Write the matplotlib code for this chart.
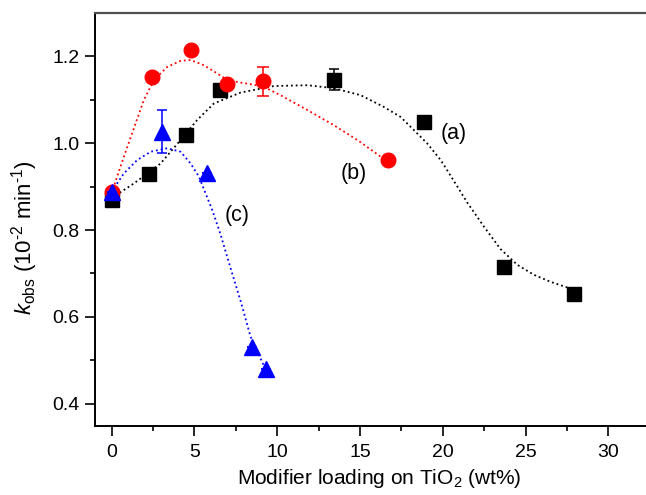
import numpy as np
import matplotlib
matplotlib.use('Agg')
import matplotlib.pyplot as plt
from matplotlib.ticker import MultipleLocator

plt.rcParams['font.family'] = ['Liberation Sans', 'DejaVu Sans']
plt.rcParams['mathtext.fontset'] = 'custom'
plt.rcParams['mathtext.rm'] = 'Liberation Sans'
plt.rcParams['mathtext.it'] = 'Liberation Sans:italic'

# (a) series, black squares
a_x = [0, 2.25, 4.47, 6.54, 13.42, 18.86, 23.67, 27.92]
a_y = [0.869, 0.929, 1.018, 1.122, 1.146, 1.048, 0.714, 0.652]
a_err = [0, 0, 0, 0, 0.025, 0, 0, 0]
a_fit_x = [0, 0.14, 1.35, 2.96, 4.17, 5.17, 6.18, 7.79, 9.8, 11.82, 13.42, 15.04, 16.44,
           17.45, 18.25, 19.06, 19.87, 20.47, 21.48, 22.48, 23.49, 24.5, 25.5, 26.5,
           27.5, 28.1]
a_fit_y = [0.874, 0.877, 0.907, 0.953, 1.007, 1.053, 1.091, 1.116, 1.131, 1.133, 1.126,
           1.11, 1.083, 1.06, 1.03, 0.999, 0.961, 0.925, 0.863, 0.808, 0.756, 0.72,
           0.697, 0.681, 0.668, 0.662]

# (b) series, red circles
b_x = [0, 2.42, 4.77, 6.98, 9.12, 16.69]
b_y = [0.887, 1.151, 1.214, 1.135, 1.142, 0.961]
b_err = [0, 0, 0, 0, 0.033, 0]
b_fit_x = [0, 0.54, 0.95, 1.45, 1.95, 2.56, 3.36, 4.17, 4.77, 5.57, 6.38, 6.98, 7.79,
           9.1, 10.2, 11.82, 13.42, 14.84, 16.24, 16.69]
b_fit_y = [0.884, 0.946, 0.991, 1.045, 1.099, 1.145, 1.175, 1.189, 1.191, 1.179, 1.16,
           1.145, 1.139, 1.131, 1.11, 1.076, 1.041, 1.007, 0.969, 0.961]

# (c) series, blue triangles
c_x = [0, 3.06, 5.78, 8.5, 9.3]
c_y = [0.888, 1.026, 0.932, 0.532, 0.48]
c_err = [0, 0.05, 0, 0, 0]
c_fit_x = [0, 0.74, 1.55, 2.36, 3.36, 4.17, 4.77, 5.27, 5.68, 6.08, 6.58, 6.99, 7.79,
           8.39, 8.9, 9.3]
c_fit_y = [0.888, 0.93, 0.961, 0.98, 0.988, 0.98, 0.953, 0.923, 0.884, 0.846, 0.79,
           0.737, 0.637, 0.555, 0.512, 0.48]

fig = plt.figure(figsize=(6.46, 4.95), dpi=100)
ax = fig.add_axes([95 / 646, 69.3 / 495, 551 / 646, 412.7 / 495])

ax.plot(a_fit_x, a_fit_y, ':', color='black', lw=1.3, zorder=1)
ax.plot(b_fit_x, b_fit_y, ':', color='red', lw=1.3, zorder=1)
ax.plot(c_fit_x, c_fit_y, ':', color='blue', lw=1.3, zorder=1)

ax.errorbar(a_x, a_y, yerr=a_err, fmt='s', color='black', ms=10, elinewidth=1.1,
            capsize=3.8, capthick=1.1, zorder=3)
ax.errorbar(b_x, b_y, yerr=b_err, fmt='o', color='red', ms=10.5, elinewidth=1.1,
            capsize=4.2, capthick=1.1, zorder=4)
ax.errorbar(c_x, c_y, yerr=c_err, fmt='^', color='blue', ms=11.5, elinewidth=1.1,
            capsize=3.8, capthick=1.1, zorder=5)

ax.text(20.65, 1.023, '(a)', fontsize=15.5, ha='center', va='center')
ax.text(14.63, 0.93, '(b)', fontsize=15.5, ha='center', va='center')
ax.text(7.59, 0.834, '(c)', fontsize=15.5, ha='center', va='center')

ax.set_xlim(-1, 32.27)
ax.set_ylim(0.35, 1.299)
ax.xaxis.set_major_locator(MultipleLocator(5))
ax.xaxis.set_minor_locator(MultipleLocator(2.5))
ax.yaxis.set_major_locator(MultipleLocator(0.2))
ax.yaxis.set_minor_locator(MultipleLocator(0.1))
ax.tick_params(which='major', direction='out', length=7, width=1.2, labelsize=14)
ax.tick_params(which='minor', direction='out', length=3.6, width=1.2)
ax.tick_params(axis='x', pad=6)
ax.tick_params(axis='y', pad=4.3)

for side in ['left', 'bottom']:
    ax.spines[side].set_linewidth(1.4)
ax.spines['top'].set_linewidth(1.6)
ax.spines['top'].set_color('#505050')
ax.spines['right'].set_visible(False)

ax.set_xlabel('Modifier loading on TiO$_2$ (wt%)', fontsize=15)
ax.set_ylabel('$k_{\\rm obs}$ (10$^{\\text{-}2}$ min$^{\\text{-}1}$)', fontsize=16)
ax.xaxis.set_label_coords(0.515, -0.127)
ax.xaxis.label.set_va('center')
ax.yaxis.set_label_coords(-0.127, 0.455)
ax.yaxis.label.set_va('center')

fig.savefig('out.png', dpi=100)
